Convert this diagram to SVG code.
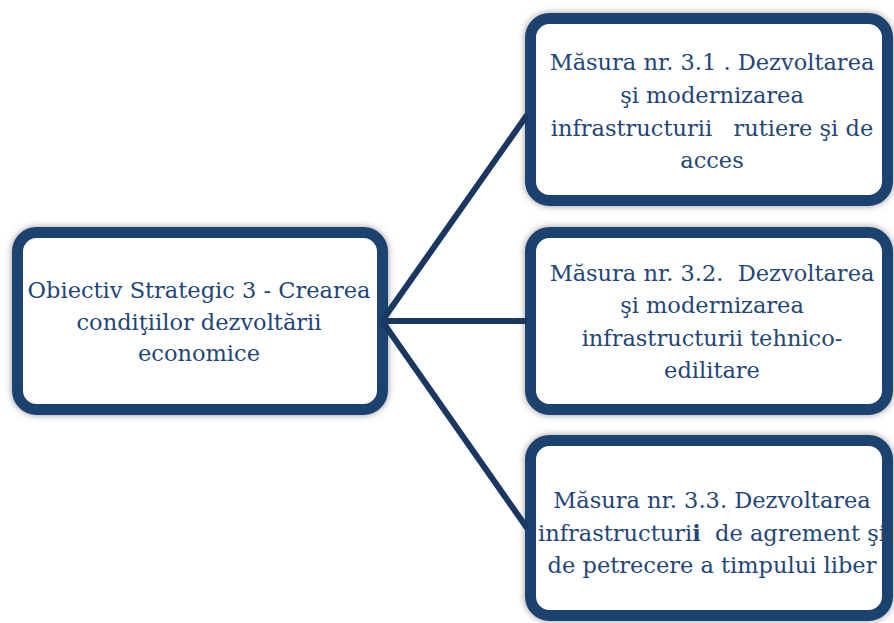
<svg xmlns="http://www.w3.org/2000/svg" width="894" height="623" viewBox="0 0 894 623">
<defs>
<filter id="sh" x="-10%" y="-10%" width="120%" height="120%">
<feGaussianBlur in="SourceAlpha" stdDeviation="3.5" result="b"/>
<feFlood flood-color="#6a6a6a" flood-opacity="0.7"/>
<feComposite in2="b" operator="in" result="s"/>
<feMerge><feMergeNode in="s"/><feMergeNode in="SourceGraphic"/></feMerge>
</filter>
</defs>
<style>
.box{fill:#ffffff;stroke:#1f4270;stroke-width:11;filter:url(#sh)}
.t{font-family:"DejaVu Serif","Liberation Serif",serif;font-size:22.5px;fill:#234676;text-anchor:middle;white-space:pre}
.c{stroke:#1a3761;stroke-width:6;fill:none}
</style>
<rect width="894" height="623" fill="#ffffff"/>
<g id="obiectiv">
<rect class="box" x="17.5" y="232.5" width="365" height="177" rx="19"/>
<text class="t" x="199" y="298">Obiectiv Strategic 3 - Crearea</text>
<text class="t" x="199" y="330">condiţiilor dezvoltării</text>
<text class="t" x="199" y="361">economice</text>
</g>
<g id="masura31">
<rect class="box" x="530.5" y="18.5" width="357" height="182" rx="19"/>
<text class="t" x="712" y="70">Măsura nr. 3.1 . Dezvoltarea</text>
<text class="t" x="712" y="103">şi modernizarea</text>
<text class="t" x="712" y="136" xml:space="preserve">infrastructurii   rutiere şi de</text>
<text class="t" x="712" y="168">acces</text>
</g>
<g id="masura32">
<rect class="box" x="530.5" y="232.5" width="357" height="177" rx="19"/>
<text class="t" x="712" y="281" xml:space="preserve">Măsura nr. 3.2.  Dezvoltarea</text>
<text class="t" x="712" y="313">şi modernizarea</text>
<text class="t" x="712" y="346">infrastructurii tehnico-</text>
<text class="t" x="712" y="378">edilitare</text>
</g>
<g id="masura33">
<rect class="box" x="530.5" y="440.5" width="357" height="175" rx="19"/>
<text class="t" x="712" y="508">Măsura nr. 3.3. Dezvoltarea</text>
<text class="t" x="712" y="541" xml:space="preserve">infrastructuri<tspan font-weight="bold">i</tspan>  de agrement şi</text>
<text class="t" x="712" y="573">de petrecere a timpului liber</text>
</g>
<g id="connectors">
<line class="c" x1="382" y1="321" x2="527" y2="115"/>
<line class="c" x1="382" y1="321" x2="527" y2="321"/>
<line class="c" x1="382" y1="321" x2="527" y2="528"/>
</g>
</svg>
